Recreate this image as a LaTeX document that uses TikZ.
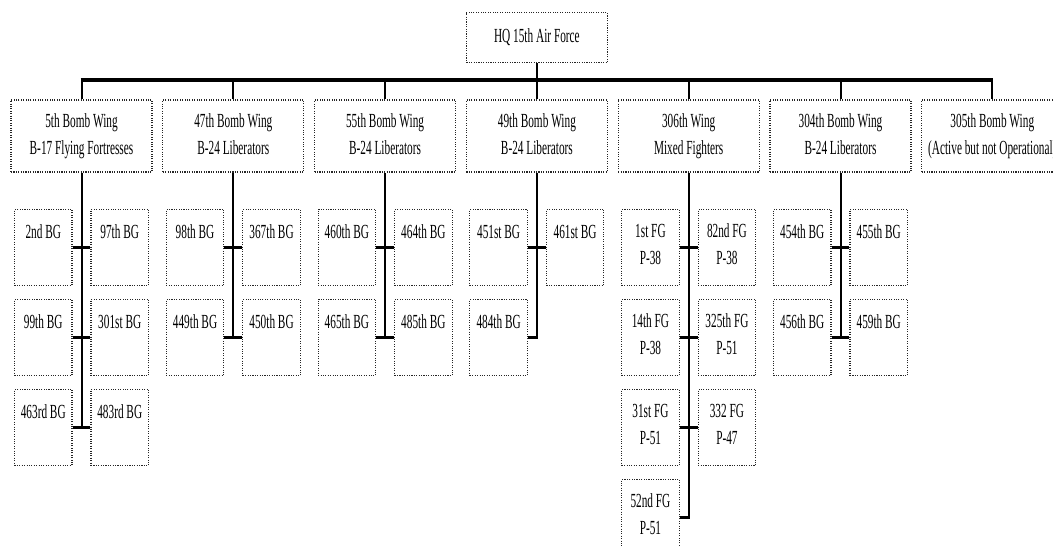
\documentclass[tikz,border=0pt]{standalone}
\usepackage{fontspec}
\setmainfont{Liberation Serif}[FakeStretch=0.565]
\begin{document}
\begin{tikzpicture}[x=1pt,y=-1pt,
  dotbox/.style={draw=black!85, line width=1.15pt, dash pattern=on 1.1pt off 1.3pt, inner sep=0pt},
  wingbox/.style={dotbox, minimum width=141pt, minimum height=72pt},
  hqbox/.style={dotbox, minimum width=141pt, minimum height=50pt},
  grpbox/.style={dotbox, minimum width=57.5pt, minimum height=76pt},
  lbl/.style={anchor=base, inner sep=0pt, font=\fontsize{20}{27}\selectfont},
  vline/.style={line width=2pt},
  tickline/.style={line width=3.2pt},
  busline/.style={line width=3.2pt}]
\useasboundingbox (0,0) rectangle (1053,546);

% HQ
\node[hqbox] (hq) at (536.9,37.7) {};
\node[lbl] (hqt) at ([yshift=-30.5pt]hq.north) {HQ 15th Air Force};

% wings
\node[wingbox] (w1) at (81.5,136) {};
\node[wingbox] (w2) at (233.3,136) {};
\node[wingbox] (w3) at (385.1,136) {};
\node[wingbox] (w4) at (536.9,136) {};
\node[wingbox] (w5) at (688.7,136) {};
\node[wingbox] (w6) at (840.5,136) {};
\node[wingbox] (w7) at (992.3,136) {};
\node[lbl] (w1a) at ([yshift=-28pt]w1.north) {5th Bomb Wing};
\node[lbl] (w1b) at ([yshift=-55pt]w1.north) {B-17 Flying Fortresses};
\node[lbl] (w2a) at ([yshift=-28pt]w2.north) {47th Bomb Wing};
\node[lbl] (w2b) at ([yshift=-55pt]w2.north) {B-24 Liberators};
\node[lbl] (w3a) at ([yshift=-28pt]w3.north) {55th Bomb Wing};
\node[lbl] (w3b) at ([yshift=-55pt]w3.north) {B-24 Liberators};
\node[lbl] (w4a) at ([yshift=-28pt]w4.north) {49th Bomb Wing};
\node[lbl] (w4b) at ([yshift=-55pt]w4.north) {B-24 Liberators};
\node[lbl] (w5a) at ([yshift=-28pt]w5.north) {306th Wing};
\node[lbl] (w5b) at ([yshift=-55pt]w5.north) {Mixed Fighters};
\node[lbl] (w6a) at ([yshift=-28pt]w6.north) {304th Bomb Wing};
\node[lbl] (w6b) at ([yshift=-55pt]w6.north) {B-24 Liberators};
\node[lbl] (w7a) at ([yshift=-28pt]w7.north) {305th Bomb Wing};
\node[lbl] (w7b) at ([yshift=-55pt]w7.north) {(Active but not Operational)};

% groups: wing 1
\node[grpbox] (g11L) at (43.25,247.5) {};
\node[grpbox] (g11R) at (119.75,247.5) {};
\node[grpbox] (g12L) at (43.25,337.5) {};
\node[grpbox] (g12R) at (119.75,337.5) {};
\node[grpbox] (g13L) at (43.25,427.5) {};
\node[grpbox] (g13R) at (119.75,427.5) {};
% wing 2
\node[grpbox] (g21L) at (195.05,247.5) {};
\node[grpbox] (g21R) at (271.55,247.5) {};
\node[grpbox] (g22L) at (195.05,337.5) {};
\node[grpbox] (g22R) at (271.55,337.5) {};
% wing 3
\node[grpbox] (g31L) at (346.85,247.5) {};
\node[grpbox] (g31R) at (423.35,247.5) {};
\node[grpbox] (g32L) at (346.85,337.5) {};
\node[grpbox] (g32R) at (423.35,337.5) {};
% wing 4
\node[grpbox] (g41L) at (498.65,247.5) {};
\node[grpbox] (g41R) at (575.15,247.5) {};
\node[grpbox] (g42L) at (498.65,337.5) {};
% wing 5
\node[grpbox] (g51L) at (650.45,247.5) {};
\node[grpbox] (g51R) at (726.95,247.5) {};
\node[grpbox] (g52L) at (650.45,337.5) {};
\node[grpbox] (g52R) at (726.95,337.5) {};
\node[grpbox] (g53L) at (650.45,427.5) {};
\node[grpbox] (g53R) at (726.95,427.5) {};
\node[grpbox] (g54L) at (650.45,517.5) {};
% wing 6
\node[grpbox] (g61L) at (802.25,247.5) {};
\node[grpbox] (g61R) at (878.75,247.5) {};
\node[grpbox] (g62L) at (802.25,337.5) {};
\node[grpbox] (g62R) at (878.75,337.5) {};

% group labels
\node[lbl] (t11L) at ([yshift=-30pt]g11L.north) {2nd BG};
\node[lbl] (t11R) at ([yshift=-30pt]g11R.north) {97th BG};
\node[lbl] (t12L) at ([yshift=-30pt]g12L.north) {99th BG};
\node[lbl] (t12R) at ([yshift=-30pt]g12R.north) {301st BG};
\node[lbl] (t13L) at ([yshift=-30pt]g13L.north) {463rd BG};
\node[lbl] (t13R) at ([yshift=-30pt]g13R.north) {483rd BG};
\node[lbl] (t21L) at ([yshift=-30pt]g21L.north) {98th BG};
\node[lbl] (t21R) at ([yshift=-30pt]g21R.north) {367th BG};
\node[lbl] (t22L) at ([yshift=-30pt]g22L.north) {449th BG};
\node[lbl] (t22R) at ([yshift=-30pt]g22R.north) {450th BG};
\node[lbl] (t31L) at ([yshift=-30pt]g31L.north) {460th BG};
\node[lbl] (t31R) at ([yshift=-30pt]g31R.north) {464th BG};
\node[lbl] (t32L) at ([yshift=-30pt]g32L.north) {465th BG};
\node[lbl] (t32R) at ([yshift=-30pt]g32R.north) {485th BG};
\node[lbl] (t41L) at ([yshift=-30pt]g41L.north) {451st BG};
\node[lbl] (t41R) at ([yshift=-30pt]g41R.north) {461st BG};
\node[lbl] (t42L) at ([yshift=-30pt]g42L.north) {484th BG};
\node[lbl] (t51L) at ([yshift=-29pt]g51L.north) {1st FG};
\node[lbl] (u51L) at ([yshift=-56pt]g51L.north) {P-38};
\node[lbl] (t51R) at ([yshift=-29pt]g51R.north) {82nd FG};
\node[lbl] (u51R) at ([yshift=-56pt]g51R.north) {P-38};
\node[lbl] (t52L) at ([yshift=-29pt]g52L.north) {14th FG};
\node[lbl] (u52L) at ([yshift=-56pt]g52L.north) {P-38};
\node[lbl] (t52R) at ([yshift=-29pt]g52R.north) {325th FG};
\node[lbl] (u52R) at ([yshift=-56pt]g52R.north) {P-51};
\node[lbl] (t53L) at ([yshift=-29pt]g53L.north) {31st FG};
\node[lbl] (u53L) at ([yshift=-56pt]g53L.north) {P-51};
\node[lbl] (t53R) at ([yshift=-29pt]g53R.north) {332 FG};
\node[lbl] (u53R) at ([yshift=-56pt]g53R.north) {P-47};
\node[lbl] (t54L) at ([yshift=-29pt]g54L.north) {52nd FG};
\node[lbl] (u54L) at ([yshift=-56pt]g54L.north) {P-51};
\node[lbl] (t61L) at ([yshift=-30pt]g61L.north) {454th BG};
\node[lbl] (t61R) at ([yshift=-30pt]g61R.north) {455th BG};
\node[lbl] (t62L) at ([yshift=-30pt]g62L.north) {456th BG};
\node[lbl] (t62R) at ([yshift=-30pt]g62R.north) {459th BG};

% bus
\coordinate (busL) at (80.5,80);
\coordinate (busR) at (993.3,80);
\draw[busline] (busL) -- (busR);
\draw[vline] (hq.south) -- (hq.south |- busL);
\foreach \w in {w1,w2,w3,w4,w5,w6,w7}{
  \draw[vline] (\w.north |- busL) -- (\w.north);
}

% wing trunks
\draw[vline] (w1.south) -- (w1.south |- g13L.east);
\draw[vline] (w2.south) -- (w2.south |- g22L.east);
\draw[vline] (w3.south) -- (w3.south |- g32L.east);
\draw[vline] (w4.south) -- (w4.south |- g42L.east);
\draw[vline] (w5.south) -- (w5.south |- g54L.east);
\draw[vline] (w6.south) -- (w6.south |- g62L.east);

% ticks
\draw[tickline] (g11L.east) -- (g11R.west);
\draw[tickline] (g12L.east) -- (g12R.west);
\draw[tickline] (g13L.east) -- (g13R.west);
\draw[tickline] (g21L.east) -- (g21R.west);
\draw[tickline] (g22L.east) -- (g22R.west);
\draw[tickline] (g31L.east) -- (g31R.west);
\draw[tickline] (g32L.east) -- (g32R.west);
\draw[tickline] (g41L.east) -- (g41R.west);
\draw[tickline] (g42L.east) -- ([xshift=1pt]w4.south |- g42L.east);
\draw[tickline] (g51L.east) -- (g51R.west);
\draw[tickline] (g52L.east) -- (g52R.west);
\draw[tickline] (g53L.east) -- (g53R.west);
\draw[tickline] (g54L.east) -- ([xshift=1pt]w5.south |- g54L.east);
\draw[tickline] (g61L.east) -- (g61R.west);
\draw[tickline] (g62L.east) -- (g62R.west);
\end{tikzpicture}
\end{document}
